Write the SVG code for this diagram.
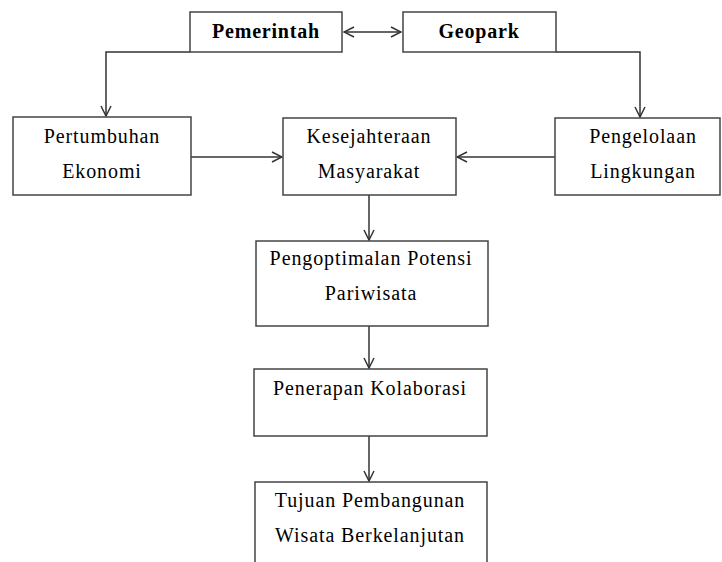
<svg xmlns="http://www.w3.org/2000/svg" width="722" height="562" viewBox="0 0 722 562">
<defs>
<style>
.box{fill:#fff;stroke:#444;stroke-width:1.5}
text{font-family:'Liberation Serif','DejaVu Serif',serif;font-size:20px;letter-spacing:0.9px;fill:#000;text-anchor:middle}
.b{font-weight:bold;letter-spacing:0.8px}
.c{fill:none;stroke:#333;stroke-width:1.5}
</style>
<marker id="ah" viewBox="0 0 12 12" refX="11" refY="6" markerWidth="12" markerHeight="12" markerUnits="userSpaceOnUse" orient="auto-start-reverse">
<path d="M1,1 L11,6 L1,11" fill="none" stroke="#333" stroke-width="1.5"/>
</marker>
</defs>
<rect width="722" height="562" fill="#fff"/>
<g id="connectors">
<path class="c" d="M344,32 H401" marker-start="url(#ah)" marker-end="url(#ah)"/>
<path class="c" d="M190,52 H106 V116" marker-end="url(#ah)"/>
<path class="c" d="M556,52 H640 V117" marker-end="url(#ah)"/>
<path class="c" d="M191,157 H282" marker-end="url(#ah)"/>
<path class="c" d="M555,157 H457" marker-end="url(#ah)"/>
<path class="c" d="M369,195 V240" marker-end="url(#ah)"/>
<path class="c" d="M369,326 V368" marker-end="url(#ah)"/>
<path class="c" d="M369,436 V481" marker-end="url(#ah)"/>
</g>
<g id="pemerintah"><rect class="box" x="190" y="12" width="152" height="40"/><text class="b" x="266" y="38">Pemerintah</text></g>
<g id="geopark"><rect class="box" x="403" y="12" width="153" height="40"/><text class="b" x="479" y="38">Geopark</text></g>
<g id="pertumbuhan"><rect class="box" x="13" y="117" width="178" height="78"/><text x="102" y="143">Pertumbuhan</text><text x="102" y="178">Ekonomi</text></g>
<g id="kesejahteraan"><rect class="box" x="283" y="118" width="173" height="77"/><text x="369" y="143">Kesejahteraan</text><text x="369" y="178">Masyarakat</text></g>
<g id="pengelolaan"><rect class="box" x="555" y="118" width="165" height="77"/><text x="643" y="143">Pengelolaan</text><text x="643" y="178">Lingkungan</text></g>
<g id="pengoptimalan"><rect class="box" x="256" y="241" width="232" height="85"/><text x="371" y="265">Pengoptimalan Potensi</text><text x="371" y="300">Pariwisata</text></g>
<g id="penerapan"><rect class="box" x="254" y="369" width="233" height="67"/><text x="370" y="395">Penerapan Kolaborasi</text></g>
<g id="tujuan"><rect class="box" x="255" y="482" width="232" height="90"/><text x="370" y="507">Tujuan Pembangunan</text><text x="370" y="542">Wisata Berkelanjutan</text></g>
</svg>
